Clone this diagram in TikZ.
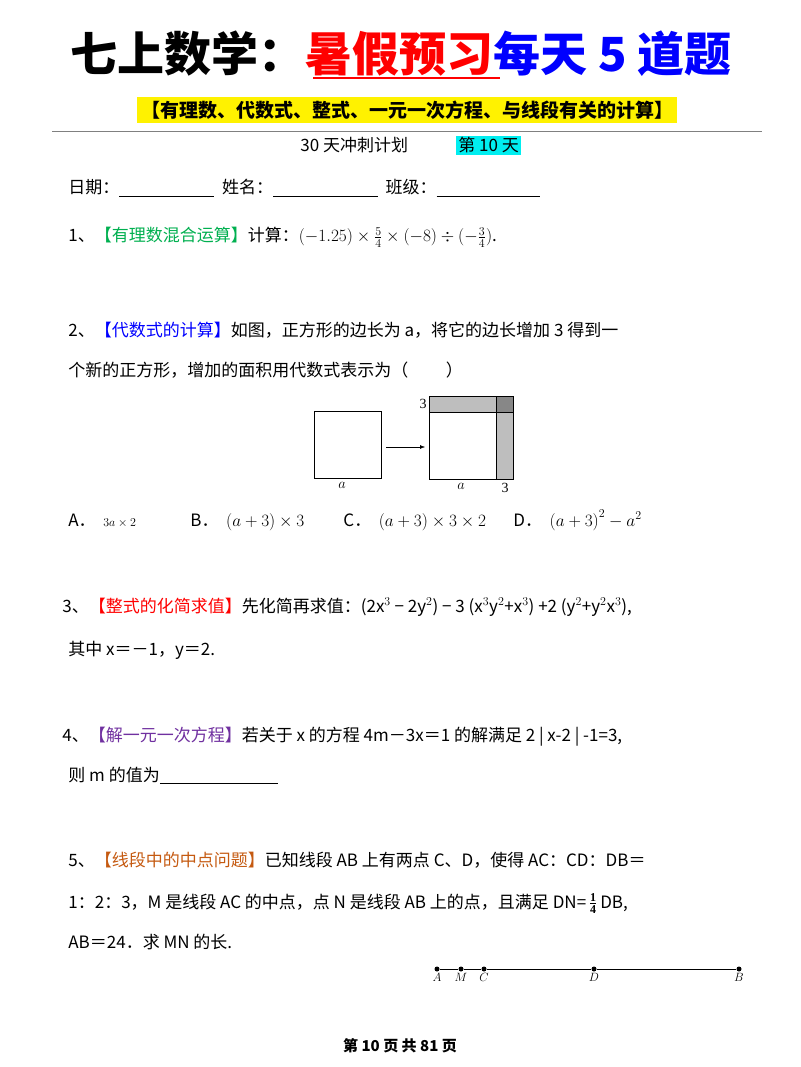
\documentclass[tikz,border=0pt]{standalone}
\usepackage{fontspec}
\usepackage{amsmath}
\setmainfont{Liberation Serif}
\newfontfamily\cjk{Noto Sans CJK SC}
\usetikzlibrary{arrows.meta, positioning}
\DeclareMathSizes{17}{17}{12}{10}
\DeclareMathSizes{14}{14}{10}{8}
\DeclareMathSizes{13}{13}{9}{7}
\definecolor{qgreen}{RGB}{0,176,80}
\definecolor{qpurple}{RGB}{112,48,160}
\definecolor{qorange}{RGB}{197,90,17}
\definecolor{daycyan}{RGB}{0,238,240}
\definecolor{stripgray}{RGB}{190,190,190}
\definecolor{cornergray}{RGB}{135,135,135}

\begin{document}
\begin{tikzpicture}[x=1pt, y=-1pt, thick,
    txt/.style={anchor=base west, inner sep=0, font=\cjk\fontsize{17}{17}\selectfont},
    fig/.style={font=\fontsize{14}{14}\selectfont},
    ptlabel/.style={font=\fontsize{13}{13}\selectfont\itshape, inner sep=1pt},
    dotpt/.style={circle, fill, inner sep=0, minimum size=5pt}]
      \useasboundingbox[fill=white] (0,0) rectangle (800,1067);

      % Title
      \node[anchor=base west, inner sep=0, font=\cjk\bfseries\fontsize{47}{47}\selectfont] (title) at (70,72)
        {七上数学：\textcolor{red}{暑假预习}\textcolor{blue}{每天 5 道题}};
      \draw[red, line width=2pt] (313,78) -- (500,78);
      \node[fill=yellow, inner sep=4pt, font=\cjk\bfseries\fontsize{19}{19}\selectfont] (topic) at (407,110)
        {【有理数、代数式、整式、一元一次方程、与线段有关的计算】};
      \draw[gray, thick] (52,131) -- (762,131);
      \node[txt] (plan) at (300,152) {30 天冲刺计划};
      \node[anchor=base west, fill=daycyan, inner sep=2pt, font=\cjk\fontsize{17}{17}\selectfont] (day) at (456,152) {第 10 天};

      % Name line
      \node[txt] (date) at (68,194) {日期：\underline{\hspace{95pt}}\ \ 姓名：\underline{\hspace{105pt}}\ \ 班级：\underline{\hspace{103pt}}};

      % Question 1
      \node[txt] (q1) at (68,242) {1、\textcolor{qgreen}{【有理数混合运算】}计算：$(-1.25)\times\frac{5}{4}\times(-8)\div(-\frac{3}{4})$.};

      % Question 2
      \node[txt] (q2a) at (68,336) {2、\textcolor{blue}{【代数式的计算】}如图，正方形的边长为 a，将它的边长增加 3 得到一};
      \node[txt] (q2b) at (68,376) {个新的正方形，增加的面积用代数式表示为（\hspace{2.2em}）};
      \draw[thin] (314,411) rectangle (381,478);
      \node[fig] (la) at (342,485) {$a$};
      \draw[thin, -{Latex[length=5pt]}] (386,447) -- (425,447);
      \fill[stripgray] (429,396) rectangle (513,412);
      \fill[stripgray] (496,412) rectangle (513,479);
      \fill[cornergray] (496,396) rectangle (513,412);
      \draw[thin] (429,396) rectangle (513,479);
      \draw[thin] (429,412) -- (513,412);
      \draw[thin] (496,396) -- (496,479);
      \node[fig] (l3a) at (423,404) {3};
      \node[fig] (lb) at (461,486) {$a$};
      \node[fig] (l3b) at (505,488) {3};
      \node[txt] (oa) at (68,526) {A．\ \ \fontsize{13}{13}\selectfont$3a\times2$};
      \node[txt] (ob) at (190,526) {B．\ \ $\left(a+3\right)\times3$};
      \node[txt] (oc) at (343,526) {C．\ \ $\left(a+3\right)\times3\times2$};
      \node[txt] (od) at (513,526) {D．\ \ $\left(a+3\right)^2-a^2$};

      % Question 3
      \node[txt] (q3a) at (62,612) {3、\textcolor{red}{【整式的化简求值】}先化简再求值：(2x$^3$ − 2y$^2$) − 3 (x$^3$y$^2$+x$^3$) +2 (y$^2$+y$^2$x$^3$),};
      \node[txt] (q3b) at (68,655) {其中 x＝－1，y＝2.};

      % Question 4
      \node[txt] (q4a) at (62,741) {4、\textcolor{qpurple}{【解一元一次方程】}若关于 x 的方程 4m－3x＝1 的解满足 2 | x-2 | -1=3,};
      \node[txt] (q4b) at (68,781) {则 m 的值为\underline{\hspace{118pt}}};

      % Question 5
      \node[txt] (q5a) at (68,866) {5、\textcolor{qorange}{【线段中的中点问题】}已知线段 AB 上有两点 C、D，使得 AC：CD：DB＝};
      \node[txt] (q5b) at (68,908) {1：2：3，M 是线段 AC 的中点，点 N 是线段 AB 上的点，且满足 DN=\,$\frac{\mathbf 1}{\mathbf 4}$\,DB,};
      \node[txt] (q5c) at (68,948) {AB＝24．求 MN 的长.};

      \node[dotpt, label={[ptlabel]below:$A$}] (A) at (437,969) {};
      \node[dotpt, label={[ptlabel]below:$M$}] (M) at (461,969) {};
      \node[dotpt, label={[ptlabel]below:$C$}] (C) at (484,969) {};
      \node[dotpt, label={[ptlabel]below:$D$}] (D) at (594,969) {};
      \node[dotpt, label={[ptlabel]below:$B$}] (B) at (739,969) {};
      \draw[semithick] (A) -- (M) -- (C) -- (D) -- (B);

      % Footer
      \node[font=\cjk\bfseries\fontsize{15}{15}\selectfont] (foot) at (400,1046) {第 10 页 共 81 页};
\end{tikzpicture}
\end{document}
